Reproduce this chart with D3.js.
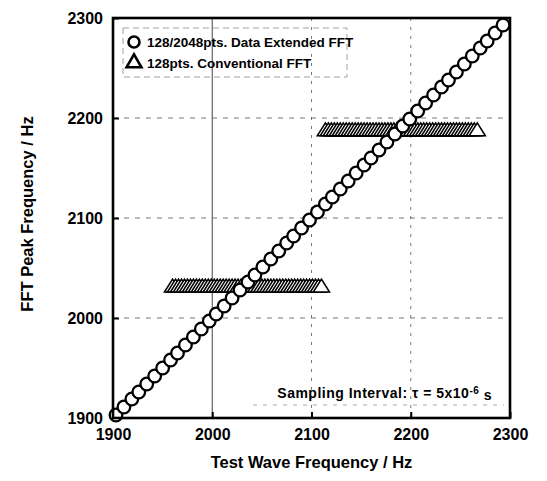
<!DOCTYPE html>
<html>
<head>
<meta charset="utf-8">
<script src="https://cdn.jsdelivr.net/npm/d3@7"></script>
<style>
  body { margin: 0; background: #fff; }
  text { font-family: "Liberation Sans", Arial, sans-serif; font-weight: bold; fill: #000; }
</style>
</head>
<body>
<div id="chart"></div>
<script>
// Width and height
var chart_width  = 547;
var chart_height = 481;
var margin = { top: 18, right: 37, bottom: 63, left: 113 };

// tick labels
var x_ticks = [1900, 2000, 2100, 2200, 2300];
var y_ticks = [1900, 2000, 2100, 2200, 2300];

// 128/2048pts. data extended FFT (circles)
var ext_freq = [1903,1911,1919,1926,1934,1942,1950,1958,1965,1973,1981,1989,1997,2004,2012,
    2020,2028,2036,2043,2051,2059,2067,2075,2082,2090,2098,2106,2114,2121,2129,2137,2145,
    2153,2160,2168,2176,2184,2192,2199,2207,2215,2223,2231,2238,2246,2254,2262,2270,2277,2285,2293];
var ext_peak = [1903,1911,1919,1926,1934,1942,1950,1958,1965,1973,1981,1989,1997,2004,2012,
    2020,2028,2036,2043,2051,2059,2067,2075,2082,2090,2098,2106,2114,2121,2129,2137,2145,
    2153,2160,2168,2176,2184,2192,2199,2207,2215,2223,2231,2238,2246,2254,2262,2270,2277,2285,2293];

// 128pts. conventional FFT (triangles), two peak levels
var conv_freq_low  = [1960,1963,1966,1969,1972,1975,1978,1981,1984,1987,1990,1993,1996,1999,
    2002,2005,2008,2011,2014,2017,2020,2023,2026,2029,2032,2035,2038,2041,2044,2047,2050,2053,
    2056,2059,2062,2065,2068,2071,2074,2077,2080,2083,2086,2089,2092,2095,2098,2101,2104,2107,2110];
var conv_freq_high = [2114,2117,2120,2123,2126,2129,2132,2135,2138,2141,2144,2147,2150,2153,
    2156,2159,2162,2165,2168,2171,2174,2177,2180,2183,2186,2189,2192,2195,2198,2201,2204,2207,
    2210,2213,2216,2219,2222,2225,2228,2231,2234,2237,2240,2243,2246,2249,2252,2255,2258,2261,2264,2267];
var conv_peak = [2031.25, 2187.5];

var w = chart_width - margin.left - margin.right;
var h = chart_height - margin.top - margin.bottom;

var x = d3.scaleLinear().domain([1900, 2300]).range([0, w]);
var y = d3.scaleLinear().domain([1900, 2300]).range([h, 0]);

// Create SVG
var svg = d3.select("#chart")
    .append("svg")
    .attr("width", chart_width)
    .attr("height", chart_height);

var g = svg.append("g")
    .attr("transform", "translate(" + margin.left + "," + margin.top + ")");

// dashed grid
g.selectAll(".vgrid")
    .data(x_ticks.slice(1, -1))
    .enter()
    .append("line")
    .attr("x1", function(d){ return x(d); })
    .attr("x2", function(d){ return x(d); })
    .attr("y1", 0)
    .attr("y2", h)
    .attr("stroke", "#555")
    .attr("stroke-width", function(d){ return d === 2000 ? 1.1 : 0.8; })
    .attr("stroke-dasharray", function(d){ return d === 2000 ? null : "3,6"; });

g.selectAll(".hgrid")
    .data(y_ticks.slice(1, -1))
    .enter()
    .append("line")
    .attr("x1", 0)
    .attr("x2", w)
    .attr("y1", function(d){ return y(d); })
    .attr("y2", function(d){ return y(d); })
    .attr("stroke", "#555")
    .attr("stroke-width", 0.8)
    .attr("stroke-dasharray", "5,6");

// axes
var xAxis = g.append("g")
    .attr("transform", "translate(0," + h + ")")
    .call(d3.axisBottom(x).tickValues(x_ticks).tickSize(-6).tickPadding(7).tickFormat(d3.format("d")));
var yAxis = g.append("g")
    .call(d3.axisLeft(y).tickValues(y_ticks).tickSize(-6).tickPadding(10).tickFormat(d3.format("d")));

[xAxis, yAxis].forEach(function(a){
    a.select(".domain").remove();
    a.selectAll(".tick line").attr("stroke", "#000").attr("stroke-width", 2);
    a.selectAll(".tick text").style("font-size", "16px");
});
xAxis.selectAll(".tick text").attr("dy", "0.95em");

// triangles: drawn left to right so the edges stack into a hatched bar
var tri = d3.symbol().type(d3.symbolTriangle).size(80);
[conv_freq_low, conv_freq_high].forEach(function(freqs, i){
    g.selectAll(".tri" + i)
        .data(freqs)
        .enter()
        .append("path")
        .attr("d", tri)
        .attr("transform", function(d){
            return "translate(" + x(d) + "," + (y(conv_peak[i]) + 1) + ") scale(1.2,1.1)";
        })
        .attr("fill", "#fff")
        .attr("stroke", "#000")
        .attr("stroke-width", 1.3);
});

// circles
g.selectAll(".dot")
    .data(ext_freq)
    .enter()
    .append("circle")
    .attr("cx", function(d){ return x(d); })
    .attr("cy", function(d, i){ return y(ext_peak[i]); })
    .attr("r", 6.3)
    .attr("fill", "#fff")
    .attr("stroke", "#000")
    .attr("stroke-width", 2.3);

// frame
g.append("rect")
    .attr("width", w)
    .attr("height", h)
    .attr("fill", "none")
    .attr("stroke", "#000")
    .attr("stroke-width", 2.6);

// legend
var lg = g.append("g").attr("transform", "translate(10,10)");
lg.append("rect")
    .attr("width", 224)
    .attr("height", 49)
    .attr("fill", "none")
    .attr("stroke", "#888")
    .attr("stroke-width", 0.8)
    .attr("stroke-dasharray", "6,4");
lg.append("circle")
    .attr("cx", 11).attr("cy", 14).attr("r", 5.5)
    .attr("fill", "#fff").attr("stroke", "#000").attr("stroke-width", 2.6);
lg.append("path")
    .attr("d", d3.symbol().type(d3.symbolTriangle).size(95))
    .attr("transform", "translate(11,35)")
    .attr("fill", "#fff").attr("stroke", "#000").attr("stroke-width", 2.6);
lg.append("text").attr("x", 24).attr("y", 19).style("font-size", "13.5px")
    .text("128/2048pts. Data Extended FFT");
lg.append("text").attr("x", 24).attr("y", 40).style("font-size", "13.5px")
    .text("128pts. Conventional FFT");

// sampling interval note
var note = g.append("text")
    .attr("x", w - 18)
    .attr("y", h - 20)
    .attr("text-anchor", "end")
    .style("font-size", "14px")
    .style("letter-spacing", "0.5px");
note.append("tspan").text("Sampling Interval:  \u03c4 = 5x10");
note.append("tspan").attr("dy", "-0.45em").style("font-size", "10px").text("-6");
note.append("tspan").attr("dy", "0.45em").text(" s");
g.append("line")
    .attr("x1", 140).attr("x2", w - 6)
    .attr("y1", h - 13).attr("y2", h - 13)
    .attr("stroke", "#888").attr("stroke-width", 0.7)
    .attr("stroke-dasharray", "4,6");

// axis titles
svg.append("text")
    .attr("x", margin.left + w / 2)
    .attr("y", 468)
    .attr("text-anchor", "middle")
    .style("font-size", "16.5px")
    .text("Test Wave Frequency / Hz");
svg.append("text")
    .attr("transform", "translate(33," + (margin.top + h / 2 - 4) + ") rotate(-90)")
    .attr("text-anchor", "middle")
    .style("font-size", "16.5px")
    .text("FFT Peak Frequency / Hz");
</script>
</body>
</html>
